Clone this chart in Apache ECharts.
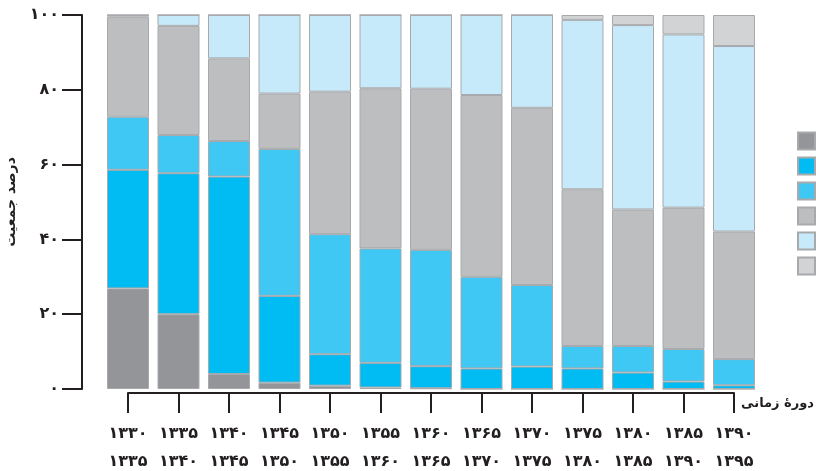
<!DOCTYPE html>
<html>
<head>
<meta charset="utf-8">
<script src="https://cdn.jsdelivr.net/npm/echarts@6/dist/echarts.min.js"></script>
<style>
html,body{margin:0;padding:0;background:#fff;}
#c{width:816px;height:471px;}
</style>
</head>
<body>
<div id="c"></div>
<script>
// Periods (start / end years, Persian digits)
var periodStart = ['۱۳۳۰','۱۳۳۵','۱۳۴۰','۱۳۴۵','۱۳۵۰','۱۳۵۵','۱۳۶۰','۱۳۶۵','۱۳۷۰','۱۳۷۵','۱۳۸۰','۱۳۸۵','۱۳۹۰'];
var periodEnd   = ['۱۳۳۵','۱۳۴۰','۱۳۴۵','۱۳۵۰','۱۳۵۵','۱۳۶۰','۱۳۶۵','۱۳۷۰','۱۳۷۵','۱۳۸۰','۱۳۸۵','۱۳۹۰','۱۳۹۵'];
var categories = periodStart.map(function(s,i){return s+'\n'+periodEnd[i];});

// Population share (%) by group, bottom to top
var seriesA = [26.9, 20.0, 4.0, 1.7, 0.9, 0.4, 0.2, 0, 0, 0, 0, 0, 0];
var seriesB = [31.7, 37.7, 52.8, 23.2, 8.4, 6.6, 5.9, 5.5, 6.0, 5.5, 4.4, 2.0, 1.0];
var seriesC = [14.2, 10.2, 9.5, 39.3, 32.1, 30.6, 31.1, 24.5, 21.8, 6.0, 7.1, 8.7, 7.0];
var seriesD = [26.8, 29.2, 22.1, 14.8, 38.1, 42.8, 43.1, 48.6, 47.4, 41.9, 36.5, 37.8, 34.1];
var seriesE = [0.4, 2.9, 11.6, 21.0, 20.5, 19.6, 19.7, 21.4, 24.8, 45.3, 49.3, 46.3, 49.6];
var seriesF = [0, 0, 0, 0, 0, 0, 0, 0, 0, 1.3, 2.7, 5.2, 8.3];

var yTickLabels = {0:'۰',20:'۲۰',40:'۴۰',60:'۶۰',80:'۸۰',100:'۱۰۰'};
var yAxisTitle = 'درصد جمعیت';
var xAxisTitle = 'دورهٔ زمانی';

var colors = ['#939598','#00bcf2','#40c8f4','#bcbec0','#c7eafb','#d1d3d4'];
var names = ['g1','g2','g3','g4','g5','g6'];
var data = [seriesA, seriesB, seriesC, seriesD, seriesE, seriesF];

var font = 'DejaVu Sans';
var ink = '#231f20';

var chart = echarts.init(document.getElementById('c'), null, {renderer:'canvas'});
chart.setOption({
  animation:false,
  backgroundColor:'#fff',
  textStyle:{fontFamily:font},
  grid:[
    {left:102.75, right:56.75, top:15, bottom:82, containLabel:false, outerBoundsMode:'none'},
    {left:128, right:82, top:15, bottom:78, containLabel:false, outerBoundsMode:'none'}
  ],
  legend:{
    orient:'vertical', left:797, top:131.5, padding:0,
    itemWidth:17, itemHeight:17, itemGap:6,
    icon:'rect', formatter:function(){return '';},
    textStyle:{fontSize:1, padding:0},
    selectedMode:false,
    data:names
  },
  xAxis:[
    {type:'category', gridIndex:0, data:categories, show:false},
    {type:'category', gridIndex:1, data:categories, boundaryGap:false,
     name:xAxisTitle, nameLocation:'end', nameGap:80,
     nameTextStyle:{fontFamily:font, fontSize:13, fontWeight:'bold', color:ink, align:'right', verticalAlign:'top', padding:[4,0,0,0]},
     axisLine:{show:true, lineStyle:{color:ink, width:2}},
     axisTick:{show:true, length:20, alignWithLabel:true, lineStyle:{color:ink, width:2}},
     axisLabel:{fontFamily:font, fontSize:16, fontWeight:'bold', color:ink, lineHeight:28, margin:27, interval:0}
    }
  ],
  yAxis:[
    {type:'value', gridIndex:0, min:0, max:100, interval:20, offset:20.75,
     name:yAxisTitle, nameLocation:'middle', nameGap:58, nameRotate:90,
     nameTextStyle:{fontFamily:font, fontSize:14, fontWeight:'bold', color:ink},
     axisLine:{show:true, lineStyle:{color:ink, width:2}},
     axisTick:{show:true, length:20, lineStyle:{color:ink, width:2}},
     axisLabel:{fontFamily:font, fontSize:16, fontWeight:'bold', color:ink, margin:23,
       formatter:function(v){return yTickLabels[v]!==undefined?yTickLabels[v]:'';}},
     splitLine:{show:false}
    },
    {type:'value', gridIndex:1, show:false, min:0, max:100}
  ],
  series: data.map(function(d,i){
    return {
      name:names[i], type:'bar', stack:'total', xAxisIndex:0, yAxisIndex:0,
      barWidth:42, data:d,
      itemStyle:{color:colors[i], borderColor:'#a7a9ac', borderWidth:1},
      emphasis:{disabled:true}
    };
  })
});
</script>
</body>
</html>
